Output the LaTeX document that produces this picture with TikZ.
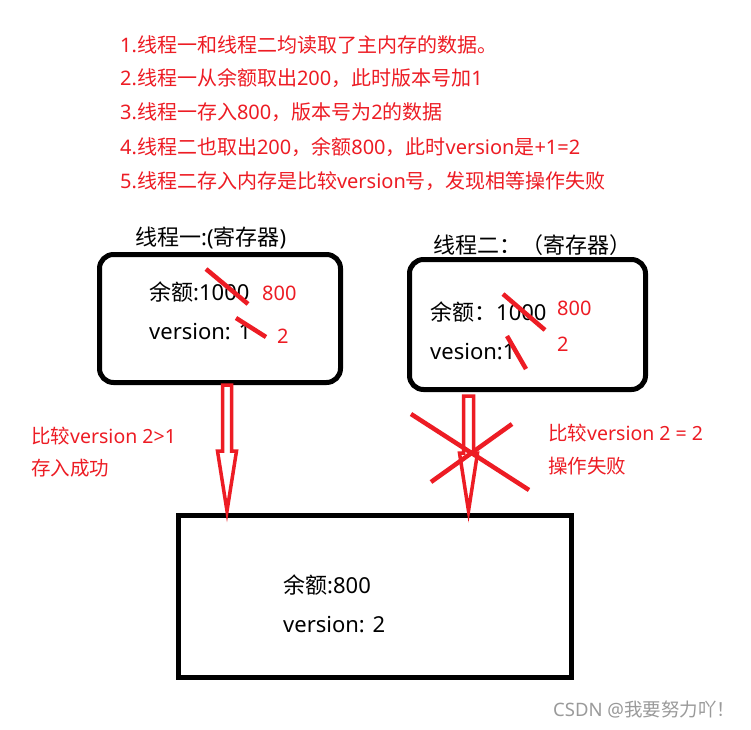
\documentclass[tikz,border=0pt]{standalone}
\usepackage{fontspec}
\setmainfont{Noto Sans CJK SC}
\newfontfamily\lat{Noto Sans}
\usetikzlibrary{calc}
\definecolor{pred}{HTML}{ED1C24}
\definecolor{wm}{HTML}{9A9A9A}
\begin{document}
\begin{tikzpicture}[x=1pt,y=-1pt,
  note/.style={anchor=west,inner sep=0,text=pred,font=\fontsize{20}{24}\selectfont},
  reg/.style={draw=black,line width=5pt,rounded corners=14pt,inner sep=0},
  mem/.style={draw=black,line width=5pt,inner sep=0},
  txt/.style={anchor=west,inner sep=0,font=\fontsize{22}{26}\selectfont},
  newval/.style={anchor=west,inner sep=0,text=pred,font=\fontsize{20}{24}\selectfont\lat},
  lbl/.style={anchor=west,inner sep=0,text=pred,font=\fontsize{19.5}{23}\selectfont},
  strike/.style={draw=pred,line width=4.5pt},
  hollow/.style={draw=pred,line width=3.5pt,fill=white,line join=miter},
]
\useasboundingbox[fill=white] (0,0) rectangle (751,729);

% notes
\node[note] (n1) at (120,45)  {{\lat 1.}线程一和线程二均读取了主内存的数据。};
\node[note] (n2) at (120,78)  {{\lat 2.}线程一从余额取出{\lat 200}，此时版本号加{\lat 1}};
\node[note] (n3) at (120,112) {{\lat 3.}线程一存入{\lat 800}，版本号为{\lat 2}的数据};
\node[note] (n4) at (120,147) {{\lat 4.}线程二也取出{\lat 200}，余额{\lat 800}，此时{\lat version}是{\lat +1=2}};
\node[note] (n5) at (120,181) {{\lat 5.}线程二存入内存是比较{\lat version}号，发现相等操作失败};

% register boxes
\node[reg,minimum width=241pt,minimum height=128pt] (t1) at (220,318.5) {};
\node[reg,minimum width=236pt,minimum height=130pt] (t2) at (527.5,324.5) {};
\node[mem,minimum width=393pt,minimum height=162pt] (m) at (375,596.5) {};

% titles
\node[txt] (t1t) at (135,238) {线程一{\lat :(}寄存器{\lat )}};
\node[txt] (t2t) at (433,245) {线程二：（寄存器）};

% thread 1 contents
\node[txt] (t1a) at (149,292) {余额{\lat :1000}};
\node[txt] (t1v) at (149,332) {\lat version: 1};
\node[newval] (t1a2) at (262,293) {800};
\node[newval] (t1v2) at (277,336) {2};
\draw[strike] (206,269) -- (248,304);
\draw[strike] (236,318) -- (266,337);

% thread 2 contents
\node[txt] (t2a) at (430,312) {余额：{\lat 1000}};
\node[txt] (t2v) at (430,352) {\lat vesion:1};
\node[newval] (t2a2) at (557,308.5) {800};
\node[newval] (t2v2) at (557,344) {2};
\draw[strike] (503,294) -- (545,330);
\draw[strike] (507,336) -- (526,369);

% memory contents
\node[txt] (ma) at (283,585) {余额{\lat :800}};
\node[txt] (mv) at (283,625) {\lat version: 2};

% left hollow arrow (success)
\coordinate (a1s) at ($(t1.south)+(7,0)$);
\coordinate (a1e) at ($(m.north -| a1s)+(0,-2)$);
\draw[hollow] ($(a1s)+(-4.5,0)$) -- ($(a1s)+(4.5,0)$) -- ($(a1s)+(4.5,66)$)
  -- ($(a1s)+(9.5,66)$) -- (a1e) -- ($(a1s)+(-9.5,66)$) -- ($(a1s)+(-4.5,66)$) -- cycle;

% right hollow arrow (fail)
\coordinate (a2s) at ($(t2.south)+(-59,4)$);
\coordinate (a2e) at ($(m.north -| a2s)+(0,-2)$);
\draw[hollow] ($(a2s)+(-5,0)$) -- ($(a2s)+(5,0)$) -- ($(a2s)+(5,57)$)
  -- ($(a2s)+(9,57)$) -- (a2e) -- ($(a2s)+(-9,57)$) -- ($(a2s)+(-5,57)$) -- cycle;

% cross over right arrow
\draw[strike] (411,414) -- (529,490);
\draw[strike] (512,424) -- (431,482);

% labels
\node[lbl] (l1) at (31,436) {比较{\lat version 2>1}};
\node[lbl] (l2) at (31,468) {存入成功};
\node[lbl] (r1) at (548,433) {比较{\lat version 2 = 2}};
\node[lbl] (r2) at (548,466) {操作失败};

% watermark
\node[anchor=west,inner sep=0,text=wm,font=\fontsize{18.5}{22}\selectfont] (wmk) at (553,709) {{\lat CSDN @}我要努力吖！};
\end{tikzpicture}
\end{document}
